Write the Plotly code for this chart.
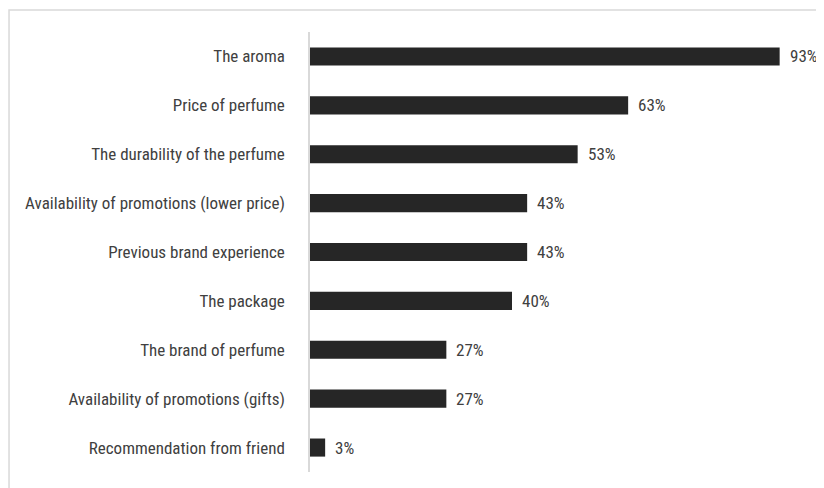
import plotly.graph_objects as go

categories = [
    "The aroma",
    "Price of perfume",
    "The durability of the perfume",
    "Availability of promotions (lower price)",
    "Previous brand experience",
    "The package",
    "The brand of perfume",
    "Availability of promotions (gifts)",
    "Recommendation from friend",
]
values = [93, 63, 53, 43, 43, 40, 27, 27, 3]
value_labels = [f"{v}%" for v in values]

FONT = "Roboto Condensed, Liberation Sans Narrow, Arial Narrow, sans-serif"
TEXT_COLOR = "#404040"

fig = go.Figure()
fig.add_trace(go.Bar(
    x=values,
    y=categories,
    orientation="h",
    width=0.37,
    marker=dict(color="#262626", line=dict(width=0)),
    hoverinfo="skip",
))

for cat, v, lab in zip(categories, values, value_labels):
    fig.add_annotation(
        x=v, y=cat, text=lab, showarrow=False,
        xanchor="left", xshift=8, yanchor="middle",
        font=dict(family=FONT, size=17, color=TEXT_COLOR),
    )

# outer chart border (top and left visible)
fig.add_shape(
    type="rect", xref="paper", yref="paper",
    x0=-0.596, x1=1.1, y0=-0.1, y1=1.05,
    line=dict(color="#d9d9d9", width=1.5), fillcolor="rgba(0,0,0,0)",
    layer="below",
)

fig.update_layout(
    width=816,
    height=480,
    margin=dict(l=302, r=9, t=24, b=16, autoexpand=False),
    paper_bgcolor="white",
    plot_bgcolor="white",
    showlegend=False,
    font=dict(family=FONT, size=17, color=TEXT_COLOR),
    xaxis=dict(range=[0, 100], visible=False, fixedrange=True, automargin=False),
    yaxis=dict(
        autorange="reversed",
        automargin=False,
        showgrid=False,
        showline=True,
        linecolor="#d9d9d9",
        linewidth=1.5,
        ticks="",
        ticklabelstandoff=20,
        tickfont=dict(family=FONT, size=17, color=TEXT_COLOR),
        fixedrange=True,
    ),
)

fig.write_html("out.html")
